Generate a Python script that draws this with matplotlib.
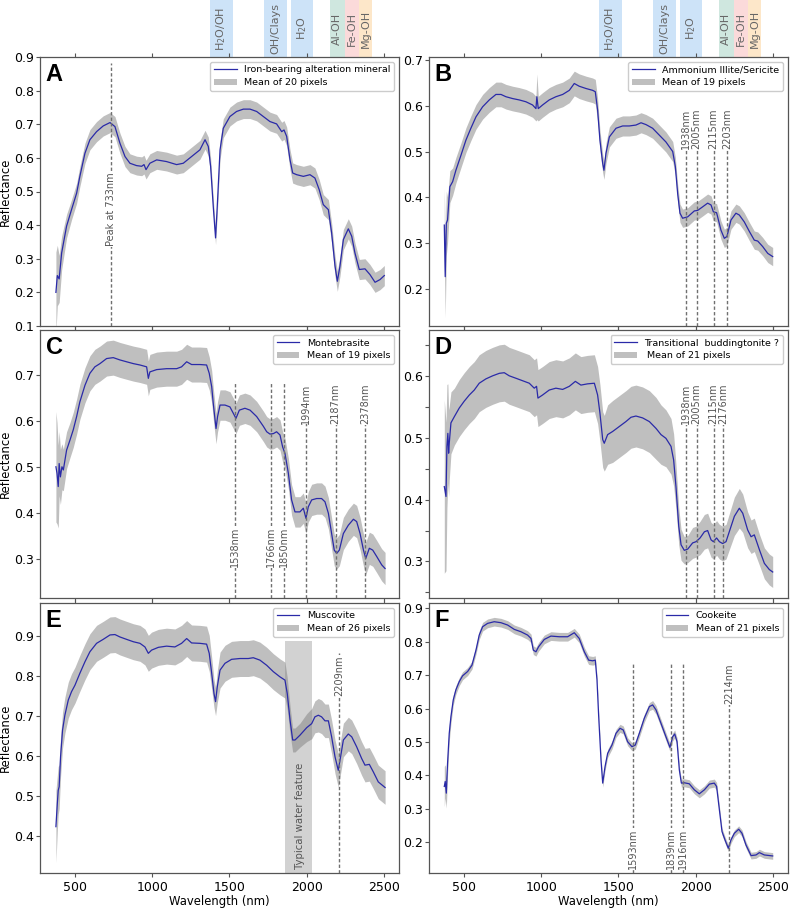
import matplotlib
matplotlib.use("Agg")
import matplotlib.pyplot as plt
from matplotlib.patches import Rectangle, Patch
from matplotlib.lines import Line2D
from matplotlib.transforms import blended_transform_factory

# ---------------- data ----------------
# Panel A  Iron-bearing alteration mineral
wl_a = [377, 386, 398, 414, 446, 478, 511, 532, 565, 597,
        640, 683, 727, 759, 791, 824, 856, 899, 932, 947,
        960, 985, 1029, 1093, 1158, 1201, 1255, 1309, 1342, 1363,
        1378, 1395, 1410, 1421, 1439, 1460, 1503, 1546, 1590, 1633,
        1676, 1719, 1762, 1805, 1838, 1853, 1870, 1892, 1909, 1935,
        1978, 2021, 2053, 2081, 2107, 2140, 2161, 2183, 2198, 2215,
        2237, 2269, 2291, 2312, 2340, 2377, 2409, 2442, 2474, 2502]
refl_a = [0.20, 0.25, 0.24, 0.317, 0.397, 0.446, 0.495, 0.545, 0.614, 0.654,
          0.678, 0.695, 0.705, 0.693, 0.644, 0.604, 0.584, 0.577, 0.575, 0.58,
          0.565, 0.584, 0.594, 0.589, 0.58, 0.584, 0.604, 0.624, 0.654, 0.634,
          0.575, 0.456, 0.362, 0.456, 0.624, 0.688, 0.723, 0.738, 0.745, 0.745,
          0.738, 0.723, 0.708, 0.701, 0.678, 0.683, 0.664, 0.594, 0.555, 0.55,
          0.545, 0.55, 0.54, 0.505, 0.461, 0.446, 0.377, 0.278, 0.233, 0.278,
          0.357, 0.389, 0.367, 0.317, 0.268, 0.27, 0.253, 0.23, 0.238, 0.25]
sd_a = [0.12, 0.09, 0.07, 0.05, 0.035, 0.03, 0.03, 0.03, 0.03, 0.03,
        0.03, 0.03, 0.03, 0.03, 0.03, 0.03, 0.028, 0.028, 0.028, 0.028,
        0.028, 0.028, 0.028, 0.028, 0.028, 0.028, 0.028, 0.028, 0.028, 0.028,
        0.025, 0.025, 0.02, 0.025, 0.028, 0.028, 0.028, 0.028, 0.028, 0.028,
        0.028, 0.028, 0.028, 0.028, 0.028, 0.028, 0.028, 0.03, 0.03, 0.03,
        0.03, 0.03, 0.03, 0.03, 0.03, 0.03, 0.03, 0.03, 0.03, 0.03,
        0.03, 0.03, 0.03, 0.03, 0.03, 0.03, 0.03, 0.03, 0.03, 0.03]

# Panel B  Ammonium Illite/Sericite
wl_b = [373, 379, 386, 394, 409, 427, 448, 481, 513, 545,
        578, 621, 664, 707, 740, 772, 815, 858, 901, 944,
        966, 972, 981, 1009, 1052, 1095, 1139, 1182, 1214, 1246,
        1290, 1333, 1350, 1365, 1380, 1398, 1406, 1419, 1441, 1484,
        1527, 1570, 1613, 1646, 1678, 1721, 1764, 1807, 1851, 1868,
        1883, 1898, 1915, 1948, 1991, 2012, 2045, 2077, 2099, 2114,
        2135, 2163, 2185, 2202, 2228, 2260, 2282, 2314, 2347, 2379,
        2401, 2433, 2466, 2498]
refl_b = [0.339, 0.226, 0.343, 0.35, 0.423, 0.434, 0.459, 0.492, 0.525, 0.551,
          0.576, 0.598, 0.613, 0.625, 0.625, 0.62, 0.616, 0.613, 0.609, 0.602,
          0.594, 0.62, 0.594, 0.602, 0.613, 0.62, 0.625, 0.634, 0.649, 0.643,
          0.638, 0.634, 0.631, 0.591, 0.525, 0.474, 0.459, 0.496, 0.532, 0.551,
          0.556, 0.556, 0.558, 0.563, 0.559, 0.551, 0.536, 0.521, 0.5, 0.467,
          0.408, 0.365, 0.354, 0.357, 0.37, 0.371, 0.379, 0.387, 0.383, 0.368,
          0.366, 0.328, 0.31, 0.314, 0.35, 0.365, 0.361, 0.346, 0.325, 0.306,
          0.304, 0.292, 0.277, 0.27]
sd_b = [0.08, 0.09, 0.07, 0.05, 0.035, 0.03, 0.028, 0.027, 0.027, 0.027,
        0.027, 0.027, 0.027, 0.027, 0.027, 0.027, 0.027, 0.027, 0.027, 0.027,
        0.027, 0.05, 0.027, 0.027, 0.027, 0.027, 0.027, 0.027, 0.027, 0.027,
        0.027, 0.027, 0.027, 0.025, 0.022, 0.02, 0.02, 0.022, 0.022, 0.022,
        0.022, 0.022, 0.022, 0.022, 0.022, 0.022, 0.022, 0.022, 0.022, 0.02,
        0.02, 0.02, 0.02, 0.02, 0.02, 0.02, 0.02, 0.02, 0.02, 0.02,
        0.02, 0.02, 0.02, 0.02, 0.02, 0.02, 0.02, 0.02, 0.02, 0.02,
        0.02, 0.02, 0.02, 0.02]

# Panel C  Montebrasite
wl_c = [377, 384, 392, 398, 406, 416, 425, 446, 468, 489,
        511, 532, 565, 597, 629, 662, 705, 748, 791, 834,
        878, 921, 964, 975, 985, 1029, 1093, 1158, 1190, 1223,
        1255, 1309, 1352, 1369, 1385, 1395, 1413, 1423, 1439, 1471,
        1503, 1525, 1542, 1564, 1600, 1633, 1676, 1719, 1741, 1762,
        1784, 1805, 1827, 1844, 1859, 1881, 1902, 1924, 1956, 1978,
        1995, 2010, 2032, 2064, 2096, 2118, 2140, 2161, 2178, 2194,
        2211, 2237, 2269, 2302, 2323, 2345, 2367, 2382, 2405, 2427,
        2453, 2485, 2507]
refl_c = [0.501, 0.487, 0.458, 0.508, 0.479, 0.501, 0.494, 0.537, 0.559, 0.581,
          0.61, 0.642, 0.678, 0.704, 0.718, 0.725, 0.736, 0.738, 0.733, 0.729,
          0.725, 0.722, 0.718, 0.693, 0.707, 0.712, 0.714, 0.714, 0.718, 0.729,
          0.723, 0.723, 0.722, 0.704, 0.675, 0.639, 0.584, 0.61, 0.635, 0.635,
          0.631, 0.617, 0.606, 0.624, 0.628, 0.624, 0.61, 0.589, 0.577, 0.572,
          0.573, 0.577, 0.57, 0.544, 0.53, 0.487, 0.429, 0.403, 0.403, 0.411,
          0.389, 0.414, 0.429, 0.432, 0.432, 0.425, 0.4, 0.356, 0.32, 0.313,
          0.32, 0.356, 0.374, 0.387, 0.382, 0.356, 0.32, 0.302, 0.324, 0.32,
          0.306, 0.288, 0.28]
sd_c = [0.12, 0.11, 0.09, 0.07, 0.06, 0.05, 0.045, 0.04, 0.038, 0.038,
        0.038, 0.038, 0.038, 0.038, 0.038, 0.038, 0.038, 0.038, 0.038, 0.038,
        0.038, 0.038, 0.038, 0.038, 0.038, 0.038, 0.038, 0.038, 0.038, 0.038,
        0.038, 0.038, 0.038, 0.036, 0.035, 0.034, 0.033, 0.033, 0.033, 0.033,
        0.033, 0.033, 0.033, 0.033, 0.033, 0.033, 0.033, 0.033, 0.033, 0.033,
        0.033, 0.033, 0.033, 0.033, 0.033, 0.033, 0.033, 0.033, 0.033, 0.033,
        0.033, 0.033, 0.034, 0.034, 0.034, 0.034, 0.034, 0.034, 0.034, 0.034,
        0.034, 0.035, 0.035, 0.035, 0.035, 0.035, 0.035, 0.035, 0.035, 0.035,
        0.035, 0.035, 0.035]

# Panel D  Transitional buddingtonite ?
wl_d = [373, 384, 390, 396, 401, 405, 416, 438, 470, 502,
        535, 567, 599, 642, 686, 729, 761, 793, 837, 880,
        923, 955, 970, 979, 1009, 1052, 1095, 1139, 1182, 1221,
        1257, 1300, 1344, 1365, 1380, 1398, 1408, 1430, 1462, 1505,
        1548, 1581, 1613, 1656, 1700, 1743, 1775, 1807, 1840, 1857,
        1872, 1890, 1905, 1926, 1948, 1980, 2002, 2028, 2056, 2077,
        2099, 2114, 2135, 2153, 2174, 2196, 2217, 2250, 2282, 2304,
        2336, 2358, 2379, 2412, 2444, 2476, 2498]
refl_d = [0.421, 0.405, 0.486, 0.507, 0.475, 0.491, 0.524, 0.534, 0.548, 0.559,
          0.569, 0.577, 0.588, 0.595, 0.6, 0.604, 0.605, 0.6, 0.596, 0.592,
          0.588, 0.58, 0.583, 0.564, 0.569, 0.577, 0.58, 0.578, 0.583, 0.591,
          0.585, 0.587, 0.588, 0.569, 0.54, 0.497, 0.491, 0.505, 0.51, 0.518,
          0.526, 0.533, 0.535, 0.532, 0.526, 0.515, 0.505, 0.499, 0.486, 0.464,
          0.421, 0.357, 0.327, 0.318, 0.32, 0.33, 0.332, 0.338, 0.348, 0.35,
          0.335, 0.332, 0.338, 0.332, 0.329, 0.332, 0.348, 0.373, 0.386, 0.378,
          0.351, 0.34, 0.343, 0.319, 0.297, 0.287, 0.283]
sd_d = [0.14, 0.12, 0.1, 0.08, 0.07, 0.06, 0.05, 0.046, 0.046, 0.046,
        0.046, 0.046, 0.046, 0.046, 0.046, 0.046, 0.046, 0.046, 0.046, 0.046,
        0.046, 0.046, 0.046, 0.046, 0.046, 0.046, 0.046, 0.046, 0.046, 0.046,
        0.046, 0.046, 0.046, 0.046, 0.046, 0.045, 0.045, 0.048, 0.05, 0.05,
        0.05, 0.05, 0.05, 0.05, 0.05, 0.05, 0.048, 0.046, 0.045, 0.042,
        0.036, 0.03, 0.025, 0.022, 0.022, 0.025, 0.025, 0.027, 0.028, 0.028,
        0.028, 0.028, 0.028, 0.028, 0.028, 0.028, 0.029, 0.031, 0.032, 0.031,
        0.029, 0.027, 0.027, 0.025, 0.025, 0.025, 0.025]

# Panel E  Muscovite
wl_e = [377, 386, 392, 398, 407, 420, 435, 457, 478, 500,
        532, 565, 597, 640, 683, 727, 759, 791, 834, 878,
        921, 953, 975, 996, 1040, 1093, 1147, 1190, 1223, 1255,
        1309, 1352, 1369, 1385, 1400, 1410, 1421, 1439, 1471, 1514,
        1568, 1622, 1654, 1697, 1741, 1784, 1827, 1859, 1874, 1892,
        1909, 1924, 1956, 2000, 2032, 2053, 2075, 2096, 2118, 2140,
        2161, 2183, 2204, 2219, 2237, 2269, 2291, 2323, 2355, 2377,
        2405, 2431, 2463, 2507]
refl_e = [0.423, 0.481, 0.514, 0.523, 0.598, 0.665, 0.702, 0.74, 0.761, 0.777,
          0.807, 0.836, 0.861, 0.882, 0.892, 0.903, 0.904, 0.898, 0.892, 0.886,
          0.882, 0.873, 0.857, 0.865, 0.872, 0.875, 0.873, 0.882, 0.894, 0.883,
          0.882, 0.88, 0.857, 0.807, 0.756, 0.736, 0.773, 0.815, 0.832, 0.842,
          0.844, 0.844, 0.846, 0.84, 0.827, 0.811, 0.798, 0.79, 0.756, 0.69,
          0.64, 0.64, 0.652, 0.671, 0.681, 0.698, 0.702, 0.698, 0.688, 0.688,
          0.648, 0.598, 0.564, 0.598, 0.64, 0.655, 0.648, 0.623, 0.594, 0.577,
          0.579, 0.56, 0.535, 0.521]
sd_e = [0.09, 0.07, 0.06, 0.055, 0.05, 0.045, 0.045, 0.045, 0.045, 0.045,
        0.045, 0.045, 0.045, 0.045, 0.045, 0.045, 0.045, 0.045, 0.045, 0.045,
        0.045, 0.045, 0.045, 0.045, 0.045, 0.045, 0.045, 0.045, 0.045, 0.045,
        0.045, 0.045, 0.045, 0.04, 0.035, 0.035, 0.04, 0.045, 0.045, 0.045,
        0.045, 0.045, 0.045, 0.045, 0.045, 0.045, 0.045, 0.045, 0.04, 0.035,
        0.03, 0.03, 0.03, 0.035, 0.038, 0.04, 0.042, 0.042, 0.042, 0.042,
        0.042, 0.042, 0.042, 0.042, 0.042, 0.042, 0.042, 0.042, 0.042, 0.042,
        0.042, 0.042, 0.042, 0.042]

# Panel F  Cookeite
wl_f = [373, 379, 386, 394, 405, 416, 431, 448, 470, 491,
        524, 552, 578, 599, 621, 653, 696, 740, 783, 826,
        869, 912, 934, 949, 966, 983, 1020, 1063, 1117, 1171,
        1214, 1246, 1279, 1307, 1333, 1350, 1361, 1372, 1387, 1398,
        1413, 1430, 1458, 1484, 1510, 1531, 1559, 1587, 1609, 1635,
        1667, 1700, 1721, 1743, 1775, 1807, 1833, 1851, 1864, 1879,
        1894, 1907, 1926, 1958, 1991, 2023, 2056, 2088, 2120, 2135,
        2153, 2170, 2191, 2211, 2228, 2250, 2278, 2299, 2325, 2358,
        2390, 2412, 2444, 2498]
refl_f = [0.367, 0.382, 0.347, 0.436, 0.526, 0.576, 0.626, 0.656, 0.681, 0.698,
          0.711, 0.73, 0.775, 0.82, 0.845, 0.855, 0.86, 0.857, 0.85, 0.837,
          0.83, 0.82, 0.81, 0.775, 0.77, 0.785, 0.807, 0.817, 0.815, 0.815,
          0.827, 0.81, 0.77, 0.745, 0.743, 0.745, 0.686, 0.576, 0.446, 0.377,
          0.426, 0.466, 0.491, 0.526, 0.541, 0.536, 0.501, 0.486, 0.491, 0.526,
          0.571, 0.606, 0.611, 0.596, 0.556, 0.516, 0.484, 0.516, 0.524, 0.501,
          0.416, 0.377, 0.378, 0.375, 0.357, 0.345, 0.357, 0.374, 0.377, 0.367,
          0.297, 0.232, 0.205, 0.182, 0.207, 0.227, 0.239, 0.227, 0.192, 0.16,
          0.162, 0.169, 0.162, 0.159]
sd_f = [0.06, 0.05, 0.045, 0.035, 0.025, 0.02, 0.015, 0.013, 0.012, 0.012,
        0.012, 0.012, 0.012, 0.013, 0.013, 0.013, 0.013, 0.013, 0.013, 0.013,
        0.013, 0.013, 0.013, 0.013, 0.013, 0.013, 0.013, 0.013, 0.013, 0.013,
        0.013, 0.013, 0.013, 0.013, 0.013, 0.013, 0.012, 0.012, 0.012, 0.012,
        0.012, 0.012, 0.012, 0.012, 0.012, 0.012, 0.012, 0.012, 0.012, 0.012,
        0.012, 0.012, 0.013, 0.013, 0.012, 0.012, 0.012, 0.012, 0.012, 0.012,
        0.012, 0.012, 0.012, 0.012, 0.012, 0.012, 0.012, 0.012, 0.012, 0.012,
        0.012, 0.01, 0.01, 0.01, 0.01, 0.01, 0.01, 0.01, 0.01, 0.01,
        0.01, 0.01, 0.01, 0.01]

letters = ["A", "B", "C", "D", "E", "F"]
minerals = ["Iron-bearing alteration mineral", "Ammonium Illite/Sericite",
            "Montebrasite", "Transitional  buddingtonite ?", "Muscovite", "Cookeite"]
pixel_labels = ["Mean of 20 pixels", "Mean of 19 pixels", "Mean of 19 pixels",
                " Mean of 21 pixels", "Mean of 26 pixels", "Mean of 21 pixels"]

# marked absorption features (nm)
marks_a = [733]
marks_b = [1938, 2005, 2115, 2203]
marks_c = [1538, 1766, 1850, 1994, 2187, 2378]
marks_d = [1938, 2005, 2115, 2176]
marks_e = [2209]
marks_f = [1593, 1839, 1916, 2214]

# absorption band families (nm)
band_names = ["H$_2$O/OH", "OH/Clays", "H$_2$O", "Al-OH", "Fe-OH", "Mg-OH"]
band_start = [1375, 1725, 1895, 2150, 2245, 2340]
band_end = [1520, 1875, 2040, 2245, 2340, 2420]
water_feature = (1860, 2035)

xtick_vals = [500, 1000, 1500, 2000, 2500]

# ---------------- styling / layout ----------------
LINE_C = "#2a2aa8"
FILL_C = "#808080"
GRID_C = "#555555"
band_colors = ["#cde3f8", "#cde3f8", "#cde3f8", "#cfe7df", "#fbdada", "#fde7c9"]

panels = [
    dict(wl=wl_a, r=refl_a, sd=sd_a, ylim=(0.1, 0.9), yt=[0.1, 0.2, 0.3, 0.4, 0.5, 0.6, 0.7, 0.8, 0.9],
         marks=marks_a, mtext=["Peak at 733nm"], my=[0.446], mtop=[0.881]),
    dict(wl=wl_b, r=refl_b, sd=sd_b, ylim=(0.118, 0.707), yt=[0.2, 0.3, 0.4, 0.5, 0.6, 0.7],
         marks=marks_b, mtext=None, my=[0.549] * 4, mtop=[0.591] * 4),
    dict(wl=wl_c, r=refl_c, sd=sd_c, ylim=(0.216, 0.798), yt=[0.3, 0.4, 0.5, 0.6, 0.7],
         marks=marks_c, mtext=None, my=[0.3275, 0.3275, 0.3275, 0.6385, 0.6385, 0.6385], mtop=[0.682] * 6),
    dict(wl=wl_d, r=refl_d, sd=sd_d, ylim=(0.241, 0.674),
         yt=[0.25, 0.3, 0.35, 0.4, 0.45, 0.5, 0.55, 0.6, 0.65],
         marks=marks_d, mtext=None, my=[0.555] * 4, mtop=[0.588] * 4),
    dict(wl=wl_e, r=refl_e, sd=sd_e, ylim=(0.307, 0.983), yt=[0.4, 0.5, 0.6, 0.7, 0.8, 0.9],
         marks=marks_e, mtext=None, my=[0.80], mtop=[0.857]),
    dict(wl=wl_f, r=refl_f, sd=sd_f, ylim=(0.108, 0.916), yt=[0.2, 0.3, 0.4, 0.5, 0.6, 0.7, 0.8, 0.9],
         marks=marks_f, mtext=None, my=[0.18, 0.18, 0.18, 0.673], mtop=[0.74, 0.74, 0.74, 0.735]),
]

W, H = 792, 910
fig = plt.figure(figsize=(W / 100, H / 100), dpi=100)
plt.rcParams["font.family"] = ["DejaVu Sans"]

col_x = [40, 429]
col_w = 359
row_tops = [57, 330, 603]
row_bots = [326, 598, 873]

axes = []
for i, p in enumerate(panels):
    row, col = divmod(i, 2)
    l = col_x[col] / W
    b = 1 - row_bots[row] / H
    h = (row_bots[row] - row_tops[row]) / H
    ax = fig.add_axes([l, b, col_w / W, h])
    axes.append(ax)

    wl, r, sd = p["wl"], p["r"], p["sd"]
    lo = [v - s for v, s in zip(r, sd)]
    hi = [v + s for v, s in zip(r, sd)]
    if i == 4:
        ax.axvspan(water_feature[0], water_feature[1], ymin=0,
                   ymax=(0.888 - p["ylim"][0]) / (p["ylim"][1] - p["ylim"][0]),
                   color=FILL_C, alpha=0.35, lw=0, zorder=1)
        ax.text(sum(water_feature) / 2 + 8, 0.316, "Typical water feature", rotation=90,
                ha="center", va="bottom", fontsize=7.3, color="#555555", zorder=5)
    ax.fill_between(wl, lo, hi, color=FILL_C, alpha=0.5, lw=0, zorder=2)
    ax.plot(wl, r, color=LINE_C, lw=0.9, zorder=3)

    # feature markers
    y0 = p["ylim"][0]
    for j, m in enumerate(p["marks"]):
        ax.plot([m, m], [y0, p["mtop"][j]], color="#707070", lw=1.0,
                ls=(0, (2.4, 1.6)), zorder=4)
        txt = p["mtext"][j] if p["mtext"] else f"{m}nm"
        ax.text(m, p["my"][j], txt, rotation=90, ha="center", va="center",
                fontsize=7, color="#555555", zorder=6,
                bbox=dict(fc="white", ec="none", pad=0.6))

    ax.set_xlim(274, 2597)
    ax.set_ylim(*p["ylim"])
    ax.set_xticks(xtick_vals)
    ax.set_yticks(p["yt"])
    if i == 3:
        ax.set_yticklabels(["" if k % 2 == 0 else f"{v:.1f}" for k, v in enumerate(p["yt"])])
    else:
        ax.set_yticklabels([f"{v:.1f}" for v in p["yt"]])
    ax.tick_params(axis="both", direction="out", length=3, width=0.8, color=GRID_C,
                   labelsize=9)
    ax.tick_params(axis="x", top=True, pad=2.5)
    ax.tick_params(axis="y", pad=1)
    if row < 2:
        ax.set_xticklabels([])
    else:
        ax.set_xticklabels([str(v) for v in xtick_vals])
        ax.set_xlabel("Wavelength (nm)", fontsize=8.4, labelpad=1)
    if col == 0:
        ax.set_ylabel("Reflectance", fontsize=8.4, labelpad=2)
    for s in ax.spines.values():
        s.set_color(GRID_C)
        s.set_linewidth(0.9)

    ax.text(0.016, 0.978, letters[i], transform=ax.transAxes, ha="left", va="top",
            fontsize=17, fontweight="bold", family=["Liberation Sans", "DejaVu Sans"], zorder=7)

    handles = [Line2D([], [], color=LINE_C, lw=0.9),
               Patch(facecolor=FILL_C, alpha=0.5, edgecolor="none")]
    ax.legend(handles, [minerals[i], pixel_labels[i]], loc="upper right",
              fontsize=6.8, handlelength=2.4, borderpad=0.4, labelspacing=0.4,
              framealpha=1.0, edgecolor="#cccccc", fancybox=True)

    # band family boxes above top row
    if row == 0:
        tr = blended_transform_factory(ax.transData, fig.transFigure)
        top_ax = 1 - row_tops[0] / H
        for name, s0, s1, c in zip(band_names, band_start, band_end, band_colors):
            ax.add_patch(Rectangle((s0, top_ax), s1 - s0, 1 - top_ax, transform=tr,
                                   facecolor=c, edgecolor="none", clip_on=False, zorder=0))
            ax.text((s0 + s1) / 2, 1 - 28.5 / H, name, transform=tr, rotation=90,
                    ha="center", va="center", fontsize=8, color="#666666")

fig.savefig("out.png", dpi=100)
